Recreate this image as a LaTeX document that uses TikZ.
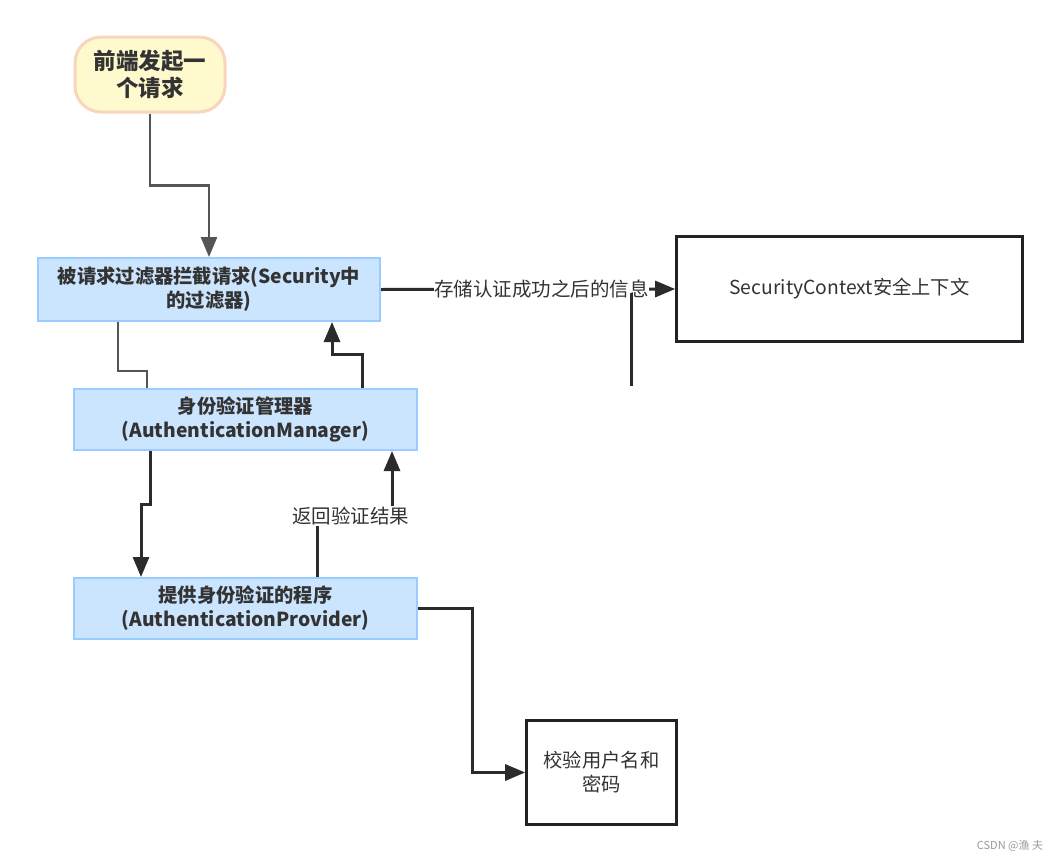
\documentclass[tikz,border=0pt]{standalone}
\usepackage{fontspec}
\setmainfont{Noto Sans CJK SC}
\usetikzlibrary{arrows.meta}
\definecolor{txt}{HTML}{333333}
\definecolor{blfill}{HTML}{CCE5FF}
\definecolor{bldraw}{HTML}{99CCFF}
\definecolor{yfill}{HTML}{FFFACD}
\definecolor{ydraw}{HTML}{F8D5BC}
\definecolor{grayline}{HTML}{555555}
\definecolor{darkline}{HTML}{2B2B2B}
\definecolor{boxdraw}{HTML}{1F2226}
\begin{document}
\begin{tikzpicture}[x=1pt,y=-1pt,
  bluebox/.style={draw=bldraw,fill=blfill,line width=2pt,minimum width=343pt,minimum height=61pt,
    align=center,text=txt,font=\fontsize{19.3}{24}\selectfont\bfseries,inner sep=0pt},
  plainbox/.style={draw=boxdraw,fill=white,line width=2.6pt,align=center,text=txt,
    font=\fontsize{19.3}{24}\selectfont,inner sep=0pt},
  startbox/.style={draw=ydraw,fill=yfill,line width=3pt,rounded corners=26pt,minimum width=150pt,
    minimum height=75pt,align=center,text=txt,font=\fontsize{22.5}{27}\selectfont\bfseries,inner sep=0pt},
  gconn/.style={draw=grayline,line width=2.6pt},
  dconn/.style={draw=darkline,line width=3pt},
  tip/.style={-{Triangle[length=20pt,width=16pt]}},
  lbl/.style={fill=white,text=txt,font=\fontsize{19.5}{22}\selectfont,inner sep=0.5pt}
]
\useasboundingbox[fill=white] (0,0) rectangle (1060,862);

\node[startbox] (start) at (150,74.5) {前端发起一\\个请求};
\node[bluebox,minimum width=342pt,minimum height=63pt] (filter) at (209,289.5) {被请求过滤器拦截请求(Security中\\的过滤器)};
\node[plainbox,minimum width=346pt,minimum height=105pt] (sc) at (849.5,289) {SecurityContext安全上下文};
\node[bluebox] (mgr) at (245.5,419.5) {身份验证管理器\\(AuthenticationManager)};
\node[bluebox] (prov) at (245.5,608.5) {提供身份验证的程序\\(AuthenticationProvider)};
\node[plainbox,minimum width=150pt,minimum height=104pt] (chk) at (601.5,772.5) {校验用户名和\\密码};

% start -> filter
\draw[gconn,tip] (start.south) -- ++(0,72) -| (filter.north);
% filter -> manager (no tip)
\draw[gconn] ([xshift=81pt]filter.south west) -- ++(0,49) -| ([xshift=74pt]mgr.north west);
% manager -> filter
\draw[dconn,tip] ([xshift=289pt]mgr.north west) -- ++(0,-34) -| ([xshift=295pt]filter.south west);
% manager -> provider
\draw[dconn,tip] ([xshift=77pt]mgr.south west) -- ++(0,53) -| ([xshift=68pt]prov.north west);
% provider -> manager
\draw[dconn,tip] ([xshift=244pt]prov.north west) -- ++(0,-61)
   -- node[lbl,pos=0.45] (lret) {返回验证结果} ++(75,0) -- ([xshift=319pt]mgr.south west);
% filter -> security context
\draw[dconn,tip] (filter.east) -- node[lbl,pos=0.545] (lsave) {存储认证成功之后的信息} (sc.west);
% dangling line
\coordinate (s1) at (631,293);
\coordinate (s2) at (631,386);
\draw[dconn] (s1) -- (s2);
% provider -> check
\draw[dconn,tip] (prov.east) -- ++(54,0) |- (chk.west);

\node[text=gray!80,font=\fontsize{11}{13}\selectfont] (wm) at (1010,846) {CSDN @渔 夫};
\end{tikzpicture}
\end{document}
